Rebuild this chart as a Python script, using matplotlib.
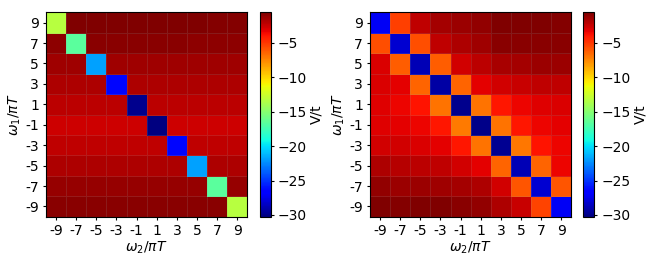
import matplotlib
matplotlib.use("Agg")
import matplotlib.pyplot as plt
import numpy as np

# frequencies (rows top->bottom = w1, cols left->right = w2)
w1_labels = ["9", "7", "5", "3", "1", "-1", "-3", "-5", "-7", "-9"]
w2_labels = ["-9", "-7", "-5", "-3", "-1", "1", "3", "5", "7", "9"]

V_left = [
    [-13.2, -0.57, -0.57, -0.57, -0.57, -0.57, -0.57, -0.57, -0.68, -0.68],
    [-0.91, -16.6, -0.85, -0.85, -0.85, -0.85, -0.85, -0.91, -0.91, -0.91],
    [-1.45, -1.45, -21.8, -1.45, -1.45, -1.45, -1.45, -1.45, -1.4, -1.4],
    [-1.75, -1.75, -1.75, -26.4, -1.75, -1.75, -1.75, -1.75, -1.75, -1.75],
    [-2.15, -2.15, -2.15, -2.15, -29.9, -2.15, -2.15, -2.1, -2.1, -2.1],
    [-2.6, -2.6, -2.6, -2.6, -2.55, -30.2, -2.55, -2.55, -2.55, -2.55],
    [-2.2, -2.2, -2.2, -2.2, -2.2, -2.2, -26.4, -2.2, -2.2, -2.2],
    [-1.75, -1.75, -1.75, -1.75, -1.75, -1.75, -1.75, -21.8, -1.75, -1.75],
    [-1.2, -1.2, -1.2, -1.2, -1.2, -1.2, -1.2, -1.2, -16.6, -1.2],
    [-0.8, -0.8, -0.8, -0.8, -0.8, -0.8, -0.8, -0.8, -0.8, -13.2],
]

V_right = [
    [-27.2, -5.2, -2.2, -1.5, -1.26, -1.03, -0.6, -0.6, -0.6, -0.7],
    [-5.66, -28.1, -5.66, -2.2, -1.73, -1.38, -0.8, -0.8, -0.8, -0.8],
    [-2.9, -6.13, -28.8, -6.13, -2.66, -2.08, -1.6, -1.5, -1.26, -1.26],
    [-2.9, -3.13, -6.37, -29.3, -6.37, -3.13, -2.66, -2.43, -2.2, -2.2],
    [-3.0, -3.36, -3.9, -6.83, -29.8, -6.83, -4.0, -3.36, -3.0, -2.9],
    [-3.0, -3.13, -3.36, -4.0, -7.06, -30.0, -6.9, -4.0, -3.36, -3.13],
    [-2.66, -2.66, -2.9, -3.13, -4.0, -6.83, -29.7, -7.0, -3.9, -3.36],
    [-1.73, -1.96, -2.08, -2.2, -2.66, -3.13, -6.37, -28.8, -6.37, -3.36],
    [-1.03, -1.26, -1.26, -1.38, -1.5, -1.73, -2.66, -5.9, -28.1, -5.9],
    [-0.6, -0.7, -0.6, -0.6, -0.8, -1.03, -1.73, -2.43, -5.42, -27.2],
]

VMIN, VMAX = -30.25, -0.55
FS = 10

fig = plt.figure(figsize=(6.56, 2.63), dpi=100)

panels = [
    (V_left, [0.0701, 0.176, 0.3069, 0.777], [0.3963, 0.176, 0.0163, 0.777]),
    (V_right, [0.5640, 0.176, 0.3069, 0.777], [0.8892, 0.176, 0.0165, 0.777]),
]

for data, ax_rect, cb_rect in panels:
    ax = fig.add_axes(ax_rect)
    cax = fig.add_axes(cb_rect)
    Z = np.array(data)[::-1]  # bottom row first for pcolormesh
    mesh = ax.pcolormesh(Z, cmap="jet", vmin=VMIN, vmax=VMAX,
                         edgecolors=(0.6, 0.6, 0.6, 0.18), linewidth=0.6)
    ax.set_xticks(np.arange(10) + 0.5)
    ax.set_xticklabels(w2_labels, fontsize=FS)
    ax.set_yticks(np.arange(10) + 0.5)
    ax.set_yticklabels(w1_labels[::-1], fontsize=FS)
    ax.set_xlim(0, 10)
    ax.set_ylim(0, 10)
    ax.tick_params(length=2.5, pad=2.5)
    ax.set_xlabel(r"$\omega_2/\pi T$", fontsize=FS, labelpad=1.5)
    ax.set_ylabel(r"$\omega_1/\pi T$", fontsize=FS, labelpad=1.5)
    cb = fig.colorbar(mesh, cax=cax)
    cb.set_ticks([-5, -10, -15, -20, -25, -30])
    cb.ax.tick_params(labelsize=FS, length=2.5, pad=2.5)
    cb.set_label("V/t", fontsize=FS, labelpad=2)

fig.savefig("out.png", dpi=100)
